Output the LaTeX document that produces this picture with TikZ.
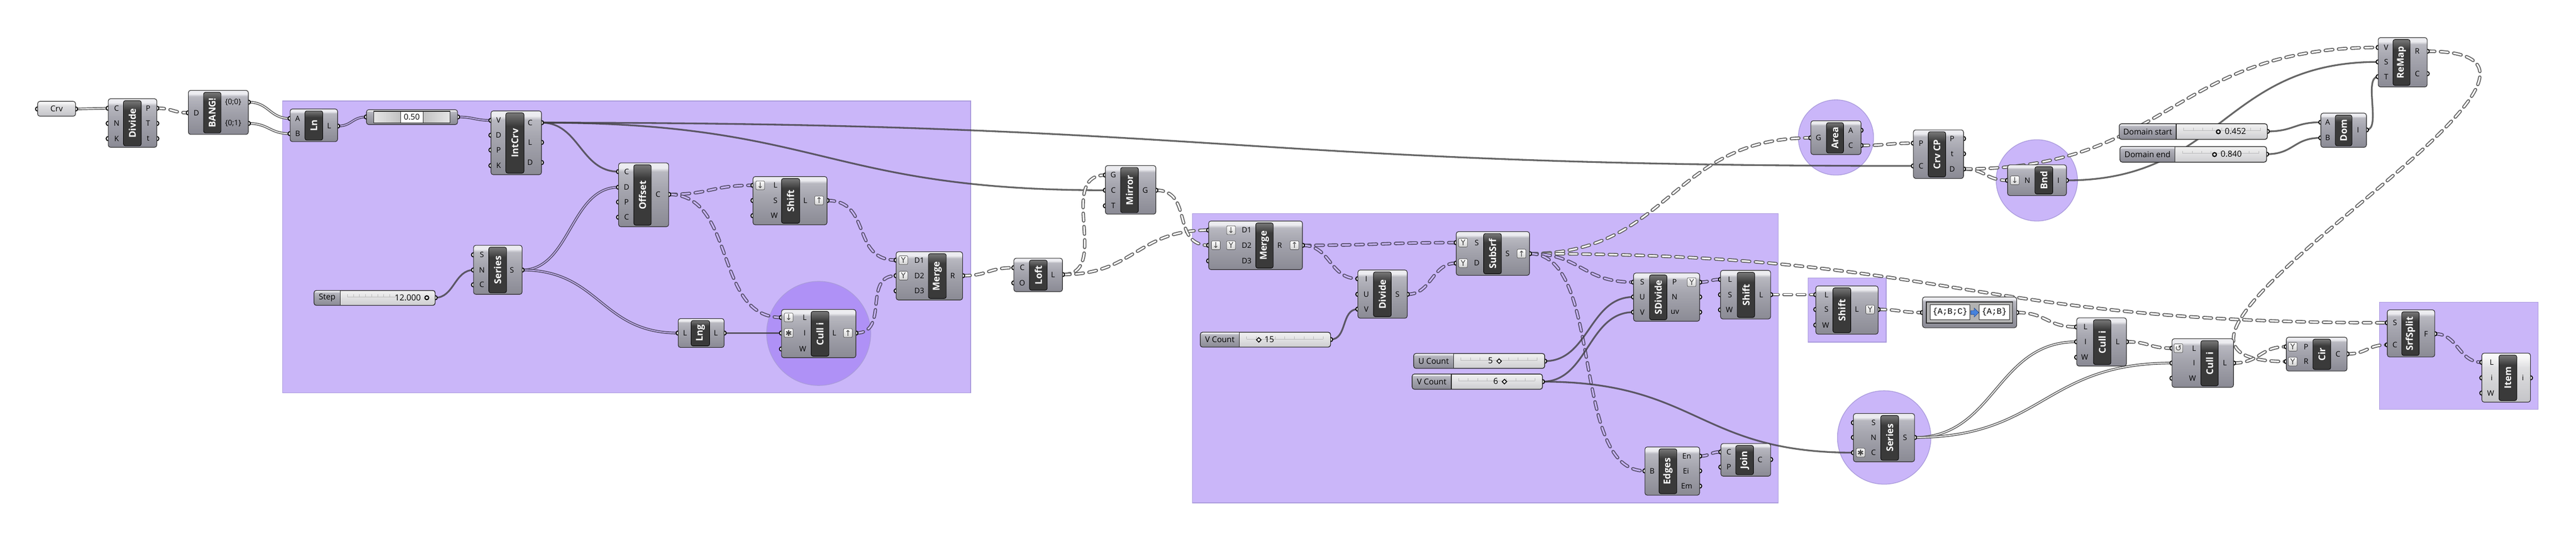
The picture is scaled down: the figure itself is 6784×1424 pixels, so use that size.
\documentclass[tikz,border=0pt]{standalone}
\usepackage{fontspec}
\setmainfont{Open Sans}
\newfontfamily\monof{Liberation Mono}
\newfontfamily\symf{DejaVu Sans}
\usetikzlibrary{fit}
\pgfdeclarelayer{grp}
\pgfdeclarelayer{wir}
\pgfdeclarelayer{grips}
\pgfsetlayers{grp,wir,grips,main}

\definecolor{grpF}{RGB}{150,110,245}
\definecolor{grpB}{RGB}{170,155,220}
\definecolor{grpV}{RGB}{202,182,250}
\definecolor{wireS}{RGB}{60,60,60}
\definecolor{wireO}{RGB}{98,98,98}
\definecolor{wireG}{RGB}{88,80,108}
\definecolor{edgeC}{RGB}{40,40,40}
\definecolor{bodyT}{RGB}{236,236,240}
\definecolor{bodyH}{RGB}{184,184,192}
\definecolor{bodyM}{RGB}{166,166,175}
\definecolor{bodyB}{RGB}{138,138,148}
\definecolor{liteT}{RGB}{248,248,248}
\definecolor{liteM}{RGB}{222,222,224}
\definecolor{liteB}{RGB}{196,196,200}
\definecolor{barT}{RGB}{115,115,115}
\definecolor{barB}{RGB}{58,58,58}
\definecolor{slT}{RGB}{242,242,242}
\definecolor{slB}{RGB}{205,205,208}
\definecolor{arrowblue}{RGB}{70,130,220}
\definecolor{arrowdark}{RGB}{20,60,140}

\pgfdeclareverticalshading{ghbodyshade}{100bp}{color(0bp)=(bodyB); color(25bp)=(bodyB); color(55bp)=(bodyM); color(68bp)=(bodyH); color(71bp)=(bodyT); color(100bp)=(bodyT)}
\pgfdeclareverticalshading{ghlightshade}{100bp}{color(0bp)=(liteB); color(25bp)=(liteB); color(60bp)=(liteM); color(71bp)=(liteT); color(100bp)=(liteT)}
\pgfdeclareverticalshading{ghbarshade}{100bp}{color(0bp)=(barB); color(25bp)=(barB); color(64bp)=(barB); color(74bp)=(barT); color(100bp)=(barT)}
\pgfdeclareverticalshading{slshade}{100bp}{color(0bp)=(slB); color(25bp)=(slB); color(75bp)=(slT); color(100bp)=(slT)}

\tikzset{
 edgeline/.style={draw=edgeC, line width=0.015cm},
 ghbody/.style={draw=edgeC, line width=0.015cm, rounded corners=0.06cm, shade, shading=ghbodyshade, inner sep=0pt},
 ghlight/.style={draw=edgeC, line width=0.015cm, rounded corners=0.06cm, shade, shading=ghlightshade, inner sep=0pt},
 ghbar/.style={draw=black, line width=0.012cm, rounded corners=0.05cm, shade, shading=ghbarshade, inner sep=0pt},
 ghtitle/.style={rotate=90, text=white, font=\bfseries\fontsize{7}{8}\selectfont, inner sep=0pt},
 glabel/.style={font=\fontsize{5.6}{6}\selectfont, text=black, inner sep=0pt},
 gripc/.style={draw=black, fill=white, line width=0.025cm},
 ghicon/.style={draw=gray!60!black, line width=0.01cm, rounded corners=0.03cm, minimum size=0.23cm, inner sep=0pt, top color=white, bottom color=gray!35, font=\symf\fontsize{6}{6}\selectfont, text=gray!55!black},
 slbody/.style={draw=edgeC, line width=0.015cm, rounded corners=0.06cm, shade, shading=slshade, inner sep=0pt},
 sltext/.style={font=\fontsize{6}{7}\selectfont, inner sep=0pt},
 slval/.style={font=\fontsize{6.2}{7}\selectfont, inner sep=0pt},
 monot/.style={font=\monof\fontsize{6.2}{7}\selectfont, inner sep=0pt},
 tickc/.style={draw=gray!55, line width=0.008cm},
 dotm/.style={circle, draw=black, fill=white, line width=0.03cm, minimum size=0.1cm, inner sep=0pt},
 diam/.style={rectangle, rotate=45, draw=black, fill=white, line width=0.022cm, minimum size=0.085cm, inner sep=0pt},
 grpbox/.style={fill=grpF, fill opacity=0.5, draw=grpB, line width=0.018cm, inner sep=0pt},
 grpcirc/.style={circle, fill=grpF, fill opacity=0.5, draw=grpB, line width=0.018cm, inner sep=0pt},
 ws/.style={draw=wireS, draw opacity=0.78, line width=0.045cm},
 wl/.style={draw=wireO, line width=0.023cm, double=white, double distance=0.022cm},
 wlg/.style={draw=wireG, line width=0.023cm, double=grpV, double distance=0.022cm},
 wt/.style={draw=wireO, line width=0.025cm, double=white, double distance=0.04cm, dash pattern=on 0.2cm off 0.15cm, line cap=round},
 wtg/.style={draw=wireG, line width=0.025cm, double=grpV, double distance=0.04cm, dash pattern=on 0.2cm off 0.15cm, line cap=round},
}

\newcommand\ghComp[9]{%
  \node[#9, fit={(#2,#3) (#4,#5)}] (#1) {};
  \node[ghbar, fit={(#6,#3+5) (#7,#5-4)}] (#1-bar) {};
  \node[ghtitle] (#1-t) at (#1-bar.center) {#8};}
\newcommand\ghGrip[6]{%
  \coordinate (#1-#2) at (#3,#4);
  \begin{pgfonlayer}{grips}\draw[gripc] (#1-#2) circle[radius=0.055cm];\end{pgfonlayer}
  \node[glabel] (#1-#2-l) at (#6,#4) {#5};}
\newcommand\ghPort[4]{%
  \coordinate (#1-#2) at (#3,#4);
  \begin{pgfonlayer}{grips}\draw[gripc] (#1-#2) circle[radius=0.055cm];\end{pgfonlayer}}
\newcommand\ghIcon[4]{\node[ghicon] (#1) at (#2,#3) {#4};}
\newcommand\ghWire[4][wt]{\begin{pgfonlayer}{wir}\draw[#1] (#2) .. controls +(#4,0) and +(-#4,0) .. (#3);\end{pgfonlayer}}
\newcommand\ghSlider[7]{%
  \node[slbody, fit={(#2,#3) (#4,#5)}] (#1) {};
  \begin{scope}
    \clip (#2-4,#3-4) rectangle (#6,#5+4);
    \shade[shading=ghbodyshade, rounded corners=0.06cm] (#2,#3) rectangle (#4,#5);
  \end{scope}
  \draw[edgeline] (#6,#3) -- (#6,#5);
  \draw[edgeline, rounded corners=0.06cm] (#2,#3) rectangle (#4,#5);
  \node[sltext] (#1-l) at ({(#2+#6)/2},{(#3+#5)/2}) {#7};}
\newcommand\ghTicks[3]{%
  \draw[tickc] (#1,#3) -- (#2,#3);
  \foreach \k in {0,...,8}{\draw[tickc] ({#1+\k*(#2-#1)/8},#3) -- ++(0,-7);}}

\begin{document}
\begin{tikzpicture}[x=0.01cm, y=-0.01cm]
\useasboundingbox (0,0) rectangle (6784,1424);
\begin{pgfonlayer}{grp}
\fill[white] (0,0) rectangle (6784,1424);
\node[grpbox, fit={(744,266) (2556,1035)}] (g1) {};
\node[grpbox, fit={(3140,562) (4683,1324)}] (g2) {};
\node[grpbox, fit={(4762,732) (4967,901)}] (g3) {};
\node[grpbox, fit={(6266,796) (6684,1078)}] (g4) {};
\node[grpcirc, minimum size=2.74cm] (c1) at (2156,878) {};
\node[grpcirc, minimum size=1.98cm] (c2) at (4835,362) {};
\node[grpcirc, minimum size=2.14cm] (c3) at (5364,475) {};
\node[grpcirc, minimum size=2.46cm] (c4) at (4962,1152) {};
\end{pgfonlayer}

% Crv
\node[ghlight, fit={(99,267) (199,306)}] (crv) {};
\node[sltext] (crv-t) at (crv.center) {Crv};
\ghPort{crv}{i}{99}{287}
\ghPort{crv}{o}{199}{287}

% Divide
\ghComp{div1}{285}{260}{413}{388}{325}{372}{Divide}{ghbody}
\ghGrip{div1}{C}{285}{285}{C}{307}
\ghGrip{div1}{N}{285}{325}{N}{307}
\ghGrip{div1}{K}{285}{365}{K}{307}
\ghGrip{div1}{oP}{413}{285}{P}{390}
\ghGrip{div1}{oT}{413}{325}{T}{390}
\ghGrip{div1}{ot}{413}{365}{t}{390}

% BANG
\ghComp{bang}{496}{238}{654}{354}{536}{582}{BANG!}{ghbody}
\ghGrip{bang}{D}{496}{297}{D}{517}
\ghGrip{bang}{o00}{654}{269}{\{0;0\}}{614}
\ghGrip{bang}{o01}{654}{325}{\{0;1\}}{614}

% Ln
\ghComp{ln}{764}{287}{889}{373}{803}{850}{Ln}{ghbody}
\ghGrip{ln}{A}{764}{312}{A}{784}
\ghGrip{ln}{B}{764}{352}{B}{784}
\ghGrip{ln}{oL}{889}{332}{L}{867}

% number 0.50
\node[ghbody, fit={(965,289) (1205,328)}] (num) {};
\node[draw=edgeC, line width=0.015cm, left color=gray!20, right color=gray!20, middle color=gray!60, fit={(984,293) (1185,324)}, inner sep=0pt] (num-f) {};
\node[draw=edgeC, line width=0.012cm, fill=white, fit={(1055,294) (1114,323)}, inner sep=0pt] (num-b) {};
\node[sltext] (num-v) at (num-b.center) {0.50};
\ghPort{num}{i}{965}{308}
\ghPort{num}{o}{1205}{308}

% IntCrv
\ghComp{ic}{1293}{292}{1426}{460}{1332}{1380}{IntCrv}{ghbody}
\ghGrip{ic}{V}{1293}{317}{V}{1313}
\ghGrip{ic}{D}{1293}{356}{D}{1313}
\ghGrip{ic}{P}{1293}{395}{P}{1313}
\ghGrip{ic}{K}{1293}{436}{K}{1313}
\ghGrip{ic}{oC}{1426}{323}{C}{1396}
\ghGrip{ic}{oL}{1426}{375}{L}{1396}
\ghGrip{ic}{oD}{1426}{428}{D}{1396}

% Offset
\ghComp{off}{1629}{429}{1761}{597}{1669}{1715}{Offset}{ghbody}
\ghGrip{off}{C}{1629}{452}{C}{1650}
\ghGrip{off}{D}{1629}{493}{D}{1650}
\ghGrip{off}{P}{1629}{532}{P}{1650}
\ghGrip{off}{C2}{1629}{572}{C}{1650}
\ghGrip{off}{oC}{1761}{512}{C}{1733}

% Series
\ghComp{ser}{1247}{646}{1375}{775}{1287}{1334}{Series}{ghbody}
\ghGrip{ser}{S}{1247}{671}{S}{1269}
\ghGrip{ser}{N}{1247}{711}{N}{1269}
\ghGrip{ser}{C}{1247}{750}{C}{1269}
\ghGrip{ser}{oS}{1375}{711}{S}{1348}

% Step slider
\ghSlider{step}{827}{765}{1146}{804}{896}{Step}
\ghTicks{915}{1042}{782}
\node[slval] (step-v) at (1074,784) {12.000};
\node[dotm] (step-m) at (1124,784) {};
\ghPort{step}{o}{1146}{784}

% Shift 1
\ghComp{sh1}{1983}{465}{2178}{592}{2058}{2106}{Shift}{ghbody}
\ghGrip{sh1}{L}{1983}{488}{L}{2042}
\ghGrip{sh1}{S}{1983}{528}{S}{2042}
\ghGrip{sh1}{W}{1983}{568}{W}{2039}
\ghGrip{sh1}{oL}{2178}{528}{L}{2121}
\ghIcon{sh1-i1}{2002}{488}{↓}
\ghIcon{sh1-i2}{2157}{528}{↑}

% Merge 1
\ghComp{mg1}{2360}{663}{2535}{790}{2445}{2492}{Merge}{ghbody}
\ghGrip{mg1}{D1}{2360}{685}{D1}{2421}
\ghGrip{mg1}{D2}{2360}{726}{D2}{2421}
\ghGrip{mg1}{D3}{2360}{766}{D3}{2421}
\ghGrip{mg1}{oR}{2535}{726}{R}{2509}
\ghIcon{mg1-i1}{2379}{685}{Y}
\ghIcon{mg1-i2}{2379}{726}{Y}

% Lng
\ghComp{lng}{1786}{839}{1907}{915}{1820}{1869}{Lng}{ghbody}
\ghGrip{lng}{L}{1786}{877}{L}{1804}
\ghGrip{lng}{oL}{1907}{877}{L}{1885}

% Cull i (1)
\ghComp{cu1}{2058}{815}{2254}{942}{2136}{2183}{Cull i}{ghbody}
\ghGrip{cu1}{L}{2058}{836}{L}{2119}
\ghGrip{cu1}{I}{2058}{877}{I}{2119}
\ghGrip{cu1}{W}{2058}{919}{W}{2114}
\ghGrip{cu1}{oL}{2254}{877}{L}{2197}
\ghIcon{cu1-i1}{2077}{836}{↓}
\ghIcon{cu1-i2}{2077}{877}{✱}
\ghIcon{cu1-i3}{2233}{877}{↑}

% Loft
\ghComp{loft}{2670}{680}{2798}{768}{2711}{2758}{Loft}{ghbody}
\ghGrip{loft}{C}{2670}{705}{C}{2692}
\ghGrip{loft}{O}{2670}{745}{O}{2692}
\ghGrip{loft}{oL}{2798}{723}{L}{2773}

% Mirror
\ghComp{mir}{2911}{436}{3044}{564}{2951}{2998}{Mirror}{ghbody}
\ghGrip{mir}{G}{2911}{461}{G}{2932}
\ghGrip{mir}{C}{2911}{501}{C}{2932}
\ghGrip{mir}{T}{2911}{542}{T}{2932}
\ghGrip{mir}{oG}{3044}{501}{G}{3016}

% Merge 2
\ghComp{mg2}{3183}{582}{3430}{710}{3307}{3353}{Merge}{ghbody}
\ghGrip{mg2}{D1}{3183}{606}{D1}{3283}
\ghGrip{mg2}{D2}{3183}{646}{D2}{3283}
\ghGrip{mg2}{D3}{3183}{687}{D3}{3283}
\ghGrip{mg2}{oR}{3430}{646}{R}{3370}
\ghIcon{mg2-i1}{3242}{606}{↓}
\ghIcon{mg2-i2}{3202}{646}{↓}
\ghIcon{mg2-i3}{3242}{646}{Y}
\ghIcon{mg2-i4}{3409}{646}{↑}

% Divide (domain)
\ghComp{div2}{3576}{711}{3706}{838}{3617}{3664}{Divide}{ghbody}
\ghGrip{div2}{I}{3576}{734}{I}{3598}
\ghGrip{div2}{U}{3576}{775}{U}{3598}
\ghGrip{div2}{V}{3576}{814}{V}{3598}
\ghGrip{div2}{oS}{3706}{775}{S}{3680}

% SubSrf
\ghComp{ss}{3835}{610}{4028}{725}{3907}{3954}{SubSrf}{ghbody}
\ghGrip{ss}{S}{3835}{639}{S}{3889}
\ghGrip{ss}{D}{3835}{693}{D}{3889}
\ghGrip{ss}{oS}{4028}{668}{S}{3970}
\ghIcon{ss-i1}{3853}{639}{Y}
\ghIcon{ss-i2}{3853}{693}{Y}
\ghIcon{ss-i3}{4007}{668}{↑}

% sliders group 2
\ghSlider{v15}{3161}{875}{3504}{914}{3264}{V Count}
\ghTicks{3283}{3484}{893}
\node[diam] (v15-m) at (3315,895) {};
\node[slval] (v15-v) at (3343,894) {15};
\ghPort{v15}{o}{3504}{894}

\ghSlider{uc}{3723}{931}{4068}{970}{3828}{U Count}
\ghTicks{3847}{4048}{949}
\node[slval] (uc-v) at (3925,950) {5};
\node[diam] (uc-m) at (3948,951) {};
\ghPort{uc}{o}{4068}{951}

\ghSlider{v6}{3719}{985}{4062}{1025}{3822}{V Count}
\ghTicks{3841}{4042}{1003}
\node[slval] (v6-v) at (3939,1004) {6};
\node[diam] (v6-m) at (3962,1005) {};
\ghPort{v6}{o}{4062}{1005}

% SDivide
\ghComp{sd}{4302}{719}{4476}{846}{4344}{4390}{SDivide}{ghbody}
\ghGrip{sd}{S}{4302}{743}{S}{4325}
\ghGrip{sd}{U}{4302}{782}{U}{4325}
\ghGrip{sd}{V}{4302}{822}{V}{4325}
\ghGrip{sd}{oP}{4476}{743}{P}{4410}
\ghGrip{sd}{oN}{4476}{782}{N}{4410}
\ghGrip{sd}{ouv}{4476}{822}{uv}{4411}
\ghIcon{sd-i1}{4455}{743}{Y}

% Shift 2
\ghComp{sh2}{4531}{712}{4663}{840}{4575}{4621}{Shift}{ghbody}
\ghGrip{sh2}{L}{4531}{736}{L}{4556}
\ghGrip{sh2}{S}{4531}{776}{S}{4556}
\ghGrip{sh2}{W}{4531}{816}{W}{4554}
\ghGrip{sh2}{oL}{4663}{776}{L}{4638}

% Shift 3
\ghComp{sh3}{4782}{753}{4946}{880}{4827}{4874}{Shift}{ghbody}
\ghGrip{sh3}{L}{4782}{776}{L}{4810}
\ghGrip{sh3}{S}{4782}{815}{S}{4810}
\ghGrip{sh3}{W}{4782}{856}{W}{4808}
\ghGrip{sh3}{oL}{4946}{815}{L}{4890}
\ghIcon{sh3-i1}{4925}{815}{Y}

% Edges
\ghComp{edg}{4332}{1177}{4476}{1304}{4369}{4416}{Edges}{ghbody}
\ghGrip{edg}{B}{4332}{1240}{B}{4351}
\ghGrip{edg}{oEn}{4476}{1201}{En}{4442}
\ghGrip{edg}{oEi}{4476}{1240}{Ei}{4440}
\ghGrip{edg}{oEm}{4476}{1280}{Em}{4442}

% Join
\ghComp{join}{4532}{1168}{4663}{1254}{4571}{4618}{Join}{ghbody}
\ghGrip{join}{C}{4532}{1190}{C}{4553}
\ghGrip{join}{P}{4532}{1230}{P}{4553}
\ghGrip{join}{oC}{4663}{1210}{C}{4635}

% Series 2
\ghComp{ser2}{4881}{1089}{5042}{1216}{4953}{5000}{Series}{ghbody}
\ghGrip{ser2}{S}{4881}{1113}{S}{4934}
\ghGrip{ser2}{N}{4881}{1152}{N}{4934}
\ghGrip{ser2}{C}{4881}{1192}{C}{4934}
\ghGrip{ser2}{oS}{5042}{1152}{S}{5017}
\ghIcon{ser2-i1}{4900}{1192}{✱}

% Area
\ghComp{area}{4769}{318}{4901}{407}{4810}{4855}{Area}{ghbody}
\ghGrip{area}{G}{4769}{363}{G}{4789}
\ghGrip{area}{oA}{4901}{343}{A}{4874}
\ghGrip{area}{oC}{4901}{383}{C}{4874}

% Crv CP
\ghComp{ccp}{5039}{342}{5171}{470}{5078}{5124}{Crv CP}{ghbody}
\ghGrip{ccp}{P}{5039}{377}{P}{5059}
\ghGrip{ccp}{C}{5039}{437}{C}{5059}
\ghGrip{ccp}{oP}{5171}{365}{P}{5141}
\ghGrip{ccp}{ot}{5171}{405}{t}{5141}
\ghGrip{ccp}{oD}{5171}{445}{D}{5141}

% Bnd
\ghComp{bnd}{5287}{434}{5442}{515}{5359}{5406}{Bnd}{ghbody}
\ghGrip{bnd}{N}{5287}{475}{N}{5339}
\ghGrip{bnd}{oI}{5442}{475}{I}{5421}
\ghIcon{bnd-i1}{5306}{475}{↓}

% Domain sliders
\ghSlider{ds}{5581}{326}{5971}{367}{5731}{Domain start}
\ghTicks{5751}{5952}{344}
\node[dotm] (ds-m) at (5842,347) {};
\node[slval] (ds-v) at (5887,346) {0.452};
\ghPort{ds}{o}{5971}{346}

\ghSlider{de}{5583}{386}{5969}{427}{5728}{Domain end}
\ghTicks{5748}{5948}{404}
\node[dotm] (de-m) at (5832,407) {};
\node[slval] (de-v) at (5876,406) {0.840};
\ghPort{de}{o}{5969}{406}

% Dom
\ghComp{dom}{6112}{298}{6232}{388}{6150}{6194}{Dom}{ghbody}
\ghGrip{dom}{A}{6112}{322}{A}{6130}
\ghGrip{dom}{B}{6112}{363}{B}{6130}
\ghGrip{dom}{oI}{6232}{342}{I}{6210}

% ReMap
\ghComp{rm}{6263}{99}{6392}{229}{6302}{6347}{ReMap}{ghbody}
\ghGrip{rm}{V}{6263}{125}{V}{6284}
\ghGrip{rm}{S}{6263}{163}{S}{6284}
\ghGrip{rm}{T}{6263}{202}{T}{6284}
\ghGrip{rm}{oR}{6392}{135}{R}{6366}
\ghGrip{rm}{oC}{6392}{194}{C}{6366}

% Path mapper
\node[ghbody, fit={(5063,782) (5311,863)}] (pm) {};
\node[draw=edgeC, line width=0.02cm, fill=gray!60, fit={(5073,795) (5300,851)}, inner sep=0pt] (pm-f) {};
\node[draw=edgeC, line width=0.012cm, fill=white, fit={(5083,802) (5188,842)}, inner sep=0pt] (pm-a) {};
\node[draw=edgeC, line width=0.012cm, fill=white, fit={(5212,802) (5292,842)}, inner sep=0pt] (pm-b) {};
\node[monot] (pm-at) at (pm-a.center) {\{A;B;C\}};
\node[monot] (pm-bt) at (pm-b.center) {\{A;B\}};
\filldraw[fill=arrowblue, draw=arrowdark, line width=0.008cm] (5190,818) -- (5199,818) -- (5199,811) -- (5211,823) -- (5199,835) -- (5199,828) -- (5190,828) -- cycle;
\ghPort{pm}{i}{5063}{823}
\ghPort{pm}{o}{5311}{823}

% Cull i (a)
\ghComp{cua}{5469}{837}{5600}{964}{5513}{5559}{Cull i}{ghbody}
\ghGrip{cua}{L}{5469}{861}{L}{5492}
\ghGrip{cua}{I}{5469}{900}{I}{5492}
\ghGrip{cua}{W}{5469}{941}{W}{5490}
\ghGrip{cua}{oL}{5600}{900}{L}{5577}

% Cull i (b)
\ghComp{cub}{5720}{892}{5882}{1020}{5796}{5842}{Cull i}{ghbody}
\ghGrip{cub}{L}{5720}{917}{L}{5778}
\ghGrip{cub}{I}{5720}{956}{I}{5778}
\ghGrip{cub}{W}{5720}{996}{W}{5774}
\ghGrip{cub}{oL}{5882}{956}{L}{5859}
\ghIcon{cub-i1}{5737}{917}{↺}

% Cir
\ghComp{cir}{6021}{888}{6181}{977}{6091}{6138}{Cir}{ghbody}
\ghGrip{cir}{P}{6021}{913}{P}{6073}
\ghGrip{cir}{R}{6021}{952}{R}{6073}
\ghGrip{cir}{oC}{6181}{932}{C}{6157}
\ghIcon{cir-i1}{6038}{913}{Y}
\ghIcon{cir-i2}{6038}{952}{Y}

% SrfSplit
\ghComp{sfs}{6287}{816}{6412}{940}{6325}{6371}{SrfSplit}{ghbody}
\ghGrip{sfs}{S}{6287}{850}{S}{6307}
\ghGrip{sfs}{C}{6287}{908}{C}{6307}
\ghGrip{sfs}{oF}{6412}{879}{F}{6389}

% Item
\ghComp{item}{6536}{930}{6664}{1059}{6581}{6628}{Item}{ghlight}
\ghGrip{item}{L}{6536}{954}{L}{6562}
\ghGrip{item}{i}{6536}{995}{i}{6562}
\ghGrip{item}{W}{6536}{1035}{W}{6559}
\ghGrip{item}{oi}{6664}{995}{i}{6644}

% ---------- wires ----------
\ghWire[wl]{crv-o}{div1-C}{43}
\ghWire[wt]{div1-oP}{bang-D}{42}
\ghWire[wl]{bang-o00}{ln-A}{55}
\ghWire[wl]{bang-o01}{ln-B}{55}
\ghWire[wlg]{ln-oL}{num-i}{38}
\ghWire[wlg]{num-o}{ic-V}{44}
\ghWire[ws]{ic-oC}{off-C}{100}
\ghWire[ws]{ic-oC}{mir-C}{742}
\ghWire[ws]{ic-oC}{ccp-C}{1806}
\ghWire[ws]{step-o}{ser-N}{50}
\ghWire[wlg]{ser-oS}{off-D}{127}
\ghWire[wlg]{ser-oS}{lng-L}{205}
\ghWire[ws]{lng-oL}{cu1-I}{75}
\ghWire[wtg]{off-oC}{sh1-L}{110}
\ghWire[wtg]{off-oC}{cu1-L}{180}
\ghWire[wtg]{sh1-oL}{mg1-D1}{120}
\ghWire[wtg]{cu1-oL}{mg1-D2}{90}
\ghWire[wt]{mg1-oR}{loft-C}{70}
\ghWire[wt]{loft-oL}{mir-G}{130}
\ghWire[wt]{loft-oL}{mg2-D1}{190}
\ghWire[wt]{mir-oG}{mg2-D2}{100}
\ghWire[wtg]{mg2-oR}{ss-S}{200}
\ghWire[wtg]{mg2-oR}{div2-I}{75}
\ghWire[wtg]{div2-oS}{ss-D}{65}
\ghWire[ws]{v15-o}{div2-V}{45}
\ghWire[wt]{ss-oS}{area-G}{370}
\ghWire[wt]{ss-oS}{sfs-S}{1130}
\ghWire[wtg]{ss-oS}{sd-S}{137}
\ghWire[wtg]{ss-oS}{edg-B}{200}
\ghWire[ws]{uc-o}{sd-U}{117}
\ghWire[ws]{v6-o}{sd-V}{120}
\ghWire[ws]{v6-o}{ser2-C}{410}
\ghWire[wtg]{sd-oP}{sh2-L}{28}
\ghWire[wt]{sh2-oL}{sh3-L}{60}
\ghWire[wt]{sh3-oL}{pm-i}{58}
\ghWire[wt]{pm-o}{cua-L}{79}
\ghWire[wt]{cua-oL}{cub-L}{60}
\ghWire[wl]{ser2-oS}{cua-I}{213}
\ghWire[wl]{ser2-oS}{cub-I}{339}
\ghWire[wtg]{edg-oEn}{join-C}{28}
\ghWire[wt]{area-oC}{ccp-P}{69}
\ghWire[wt]{ccp-oD}{bnd-N}{58}
\ghWire[wt]{ccp-oD}{rm-V}{546}
\ghWire[ws]{bnd-oI}{rm-S}{410}
\ghWire[ws]{ds-o}{dom-A}{70}
\ghWire[ws]{de-o}{dom-B}{72}
\ghWire[ws]{dom-oI}{rm-T}{40}
\ghWire[wt]{rm-oR}{cir-R}{600}
\ghWire[wt]{cub-oL}{cir-P}{70}
\ghWire[wt]{cir-oC}{sfs-C}{53}
\ghWire[wtg]{sfs-oF}{item-L}{62}
\end{tikzpicture}
\end{document}
